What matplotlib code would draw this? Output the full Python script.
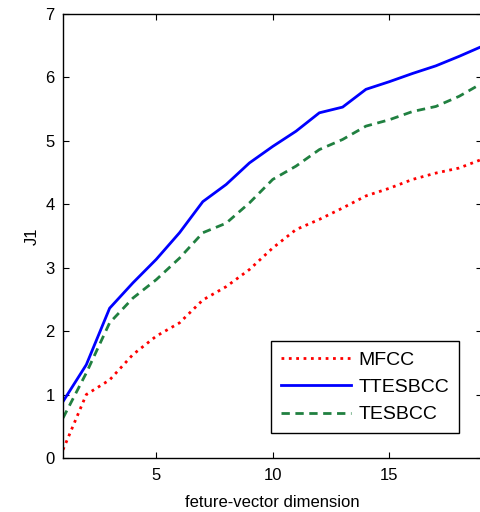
import numpy as np
import matplotlib
matplotlib.use('Agg')
import matplotlib.pyplot as plt

plt.rcParams['font.family'] = ['Liberation Sans', 'DejaVu Sans']

# feature-vector dimension
dims = np.arange(1, 20)

# J1 criterion per feature set
mfcc = [0.13, 1.00, 1.23, 1.63, 1.92, 2.13, 2.49, 2.70, 2.97, 3.31,
        3.60, 3.76, 3.94, 4.13, 4.25, 4.39, 4.49, 4.57, 4.71]
ttesbcc = [0.89, 1.47, 2.36, 2.76, 3.13, 3.55, 4.04, 4.31, 4.65, 4.91,
           5.15, 5.44, 5.53, 5.81, 5.93, 6.06, 6.18, 6.33, 6.49]
tesbcc = [0.63, 1.34, 2.13, 2.52, 2.81, 3.15, 3.55, 3.70, 4.02, 4.39,
          4.60, 4.86, 5.02, 5.23, 5.33, 5.46, 5.54, 5.70, 5.91]

xticks = [5, 10, 15]
yticks = [0, 1, 2, 3, 4, 5, 6, 7]

fig = plt.figure(figsize=(4.81, 5.12), dpi=100)
ax = fig.add_axes([0.131, 0.1055, 0.872, 0.8675])

ax.plot(dims, mfcc, ':', color='#ff0000', lw=2, label='MFCC')
ax.plot(dims, ttesbcc, '-', color='#0000ff', lw=2, label='TTESBCC')
ax.plot(dims, tesbcc, '--', color='#208040', lw=2, dashes=(3, 2), label='TESBCC')

ax.set_xlim(1, 19)
ax.set_ylim(0, 7)
ax.set_xticks(xticks)
ax.set_yticks(yticks)
ax.tick_params(direction='in', top=True, right=True, length=4, labelsize=12)
ax.tick_params(axis='x', pad=7)
ax.tick_params(axis='y', pad=6)
for s in ax.spines.values():
    s.set_linewidth(1)

ax.set_xlabel('feture-vector dimension', fontsize=12, labelpad=9)
ax.set_ylabel('J1', fontsize=12, labelpad=4)

leg = ax.legend(loc='lower right', bbox_to_anchor=(0.944, 0.056), fontsize=14,
                fancybox=False, edgecolor='black', framealpha=1,
                handlelength=3.6, handletextpad=0.4, borderpad=0.5,
                labelspacing=0.5, borderaxespad=0)
leg.get_frame().set_linewidth(1)

fig.savefig('out.png', dpi=100)
